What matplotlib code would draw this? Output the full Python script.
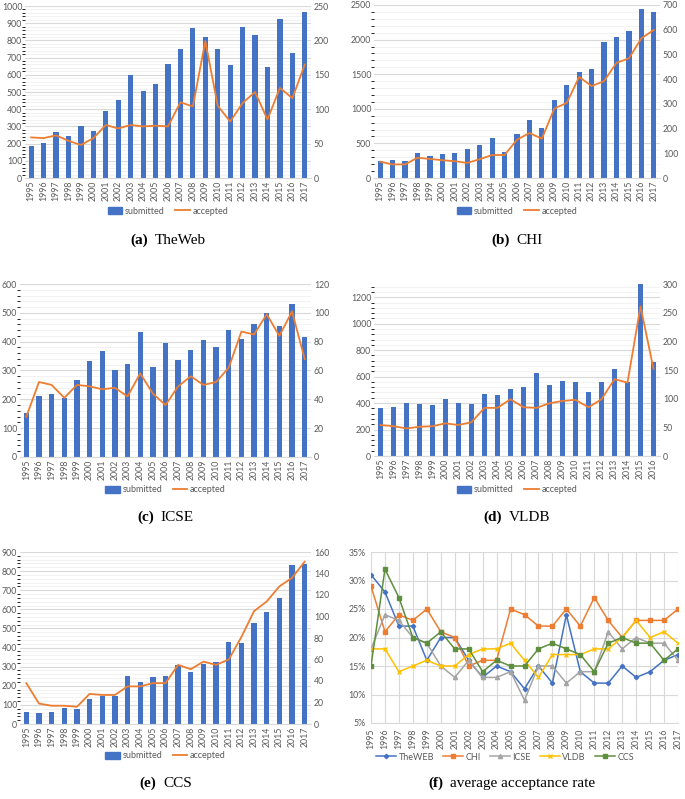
import matplotlib
matplotlib.use("Agg")
import matplotlib.pyplot as plt
from matplotlib.offsetbox import TextArea, HPacker, AnnotationBbox
from matplotlib.lines import Line2D
from matplotlib.patches import Patch
from matplotlib.ticker import MultipleLocator, FuncFormatter

# ---- data ----
years = [str(y) for y in range(1995, 2018)]
years_vldb = [str(y) for y in range(1995, 2017)]

theweb_submitted = [185, 205, 270, 245, 300, 275, 390, 455, 600, 505, 545, 665,
                    750, 875, 820, 750, 655, 880, 830, 645, 925, 725, 965]
theweb_accepted = [59, 58, 62, 54, 48, 58, 77, 72, 77, 75, 76, 75,
                   110, 104, 199, 105, 82, 109, 125, 85, 131, 116, 165]

chi_submitted = [241, 265, 241, 357, 318, 343, 357, 415, 473, 584, 372, 632,
                 845, 719, 1134, 1346, 1534, 1578, 1960, 2042, 2124, 2437, 2399]
chi_accepted = [66, 55, 55, 82, 77, 72, 68, 61, 76, 93, 93, 155,
                182, 159, 281, 304, 409, 372, 392, 466, 484, 565, 599]

icse_submitted = [154, 212, 219, 205, 268, 334, 367, 302, 323, 435, 313, 394,
                  335, 371, 406, 380, 442, 408, 462, 498, 453, 531, 416]
icse_accepted = [28, 52, 50, 41, 50, 49, 47, 48, 42, 58, 44, 36,
                 49, 56, 50, 52, 62, 87, 85, 99, 84, 101, 68]

vldb_submitted = [365, 372, 398, 392, 385, 432, 402, 392, 470, 460, 505,
                  518, 626, 540, 566, 563, 480, 556, 659, 558, 1298, 710]
vldb_accepted = [54, 52, 48, 51, 52, 57, 54, 59, 84, 84, 99,
                 85, 84, 92, 96, 98, 85, 99, 134, 128, 261, 152]

ccs_submitted = [63, 56, 61, 82, 80, 129, 149, 149, 250, 222, 248, 253,
                 308, 271, 315, 322, 428, 423, 530, 586, 659, 830, 836]
ccs_accepted = [38, 19, 17, 17, 16, 28, 27, 27, 35, 35, 38, 38,
                55, 51, 58, 55, 60, 81, 105, 114, 128, 136, 151]

rate_theweb = [31, 28, 22, 22, 16, 20, 20, 16, 13, 15, 14, 11,
               15, 12, 24, 14, 12, 12, 15, 13, 14, 16, 17]
rate_chi = [29, 21, 24, 23, 25, 21, 20, 15, 16, 16, 25, 24,
            22, 22, 25, 22, 27, 23, 20, 23, 23, 23, 25]
rate_icse = [18, 24, 23, 20, 19, 15, 13, 16, 13, 13, 14, 9,
             15, 15, 12, 14, 14, 21, 18, 20, 19, 19, 16]
rate_vldb = [18, 18, 14, 15, 16, 15, 15, 17, 18, 18, 19, 16,
             13, 17, 17, 17, 18, 18, 20, 23, 20, 21, 19]
rate_ccs = [15, 32, 27, 20, 19, 21, 18, 18, 14, 16, 15, 15,
            18, 19, 18, 17, 14, 19, 20, 19, 19, 16, 18]

BLUE = "#4472C4"
ORANGE = "#ED7D31"
GRAY = "#A5A5A5"
YELLOW = "#FFC000"
GREEN = "#5E8F3E"
TXT = "#595959"
GRID = "#D9D9D9"
GRID_MINOR = "#F0F0F0"

plt.rcParams["font.family"] = ["Lato", "DejaVu Sans"]

W, H = 685, 799
fig = plt.figure(figsize=(W / 100, H / 100), dpi=100)


def px_axes(left, top, right, bottom):
    return fig.add_axes([left / W, 1 - bottom / H, (right - left) / W, (bottom - top) / H])


def style_axis(ax):
    for s in ["top", "left", "right"]:
        ax.spines[s].set_visible(False)
    ax.spines["bottom"].set_color(GRID)
    ax.tick_params(length=0, labelsize=6.3, colors=TXT, pad=2)


def caption(x, y, tag, name):
    props = dict(family="Liberation Serif", size=11, color="black")
    a = TextArea(tag, textprops=dict(props, weight="bold"))
    b = TextArea(name, textprops=props)
    box = HPacker(children=[a, b], align="baseline", pad=0, sep=5)
    fig.add_artist(AnnotationBbox(box, (x / W, 1 - y / H), xycoords="figure fraction",
                                  frameon=False, box_alignment=(0.5, 0.5)))


def bar_panel(box, cats, submitted, accepted, lmax, lstep, rmax, rstep, leg_y, cap_y, tag, name):
    ax = px_axes(*box)
    x = range(len(cats))
    ax.bar(x, submitted, width=0.42, color=BLUE, zorder=2)
    ax.set_xlim(-0.5, len(cats) - 0.5)
    ax.set_ylim(0, lmax)
    ax.yaxis.set_major_locator(MultipleLocator(lstep))
    ax.yaxis.set_minor_locator(MultipleLocator(lstep / 5))
    ax.grid(axis="y", which="major", color=GRID, lw=0.8, zorder=0)
    ax.grid(axis="y", which="minor", color=GRID_MINOR, lw=0.6, zorder=0)
    ax.set_axisbelow(True)
    ax.set_xticks(list(x))
    ax.set_xticklabels(cats, rotation=90)
    style_axis(ax)
    if lmax % lstep:
        ax.set_yticks([v for v in range(0, lmax, lstep)])

    ax2 = ax.twinx()
    ax2.plot(x, accepted, color=ORANGE, lw=1.3, zorder=3)
    ax2.set_ylim(0, rmax)
    ax2.yaxis.set_major_locator(MultipleLocator(rstep))
    style_axis(ax2)
    ax2.spines["bottom"].set_visible(False)

    cx = (box[0] + box[2]) / 2
    handles = [Patch(color=BLUE), Line2D([], [], color=ORANGE, lw=1.3)]
    fig.legend(handles, ["submitted", "accepted"], loc="center",
               bbox_to_anchor=(cx / W, 1 - leg_y / H), ncol=2, frameon=False,
               fontsize=6.5, handlelength=1.6, handleheight=0.7, columnspacing=1.2,
               handletextpad=0.3, labelcolor=TXT)
    caption(cx, cap_y, tag, name)


bar_panel((25, 6, 311, 178), years, theweb_submitted, theweb_accepted,
          1000, 100, 250, 50, 211, 240, "(a)", "TheWeb")
bar_panel((374, 5, 660, 178), years, chi_submitted, chi_accepted,
          2500, 500, 700, 100, 211, 240, "(b)", "CHI")
bar_panel((20, 284, 311, 457), years, icse_submitted, icse_accepted,
          600, 100, 120, 20, 490, 517, "(c)", "ICSE")
bar_panel((374, 284, 660, 456), years_vldb, vldb_submitted, vldb_accepted,
          1300, 200, 300, 50, 490, 517, "(d)", "VLDB")
bar_panel((20, 552, 311, 724), years, ccs_submitted, ccs_accepted,
          900, 100, 160, 20, 756, 783, "(e)", "CCS")

# ---- (f) average acceptance rate ----
ax = px_axes(371, 552, 678, 723)
x = range(len(years))
series = [
    ("TheWEB", rate_theweb, BLUE, "D", 2.2),
    ("CHI", rate_chi, ORANGE, "s", 3.0),
    ("ICSE", rate_icse, GRAY, "^", 3.0),
    ("VLDB", rate_vldb, YELLOW, "x", 3.0),
    ("CCS", rate_ccs, GREEN, "s", 2.6),
]
for label, vals, col, mk, ms in series:
    ax.plot(x, vals, color=col, marker=mk, ms=ms, lw=1.1, mew=1, label=label)
ax.set_xlim(0, len(years) - 1)
ax.set_ylim(5, 35)
ax.yaxis.set_major_locator(MultipleLocator(5))
ax.yaxis.set_major_formatter(FuncFormatter(lambda v, p: f"{v:.0f}%"))
ax.set_xticks(list(x))
ax.set_xticklabels(years, rotation=90)
ax.grid(True, color=GRID, lw=0.8)
ax.set_axisbelow(True)
style_axis(ax)
ax.tick_params(pad=4)
fig.legend(loc="center", bbox_to_anchor=(505 / W, 1 - 757 / H), ncol=5, frameon=False,
           fontsize=6.5, handlelength=2.2, columnspacing=1.0, handletextpad=0.3,
           labelcolor=TXT)
caption(512, 783, "(f)", "average acceptance rate")

fig.savefig("out.png", dpi=100)
